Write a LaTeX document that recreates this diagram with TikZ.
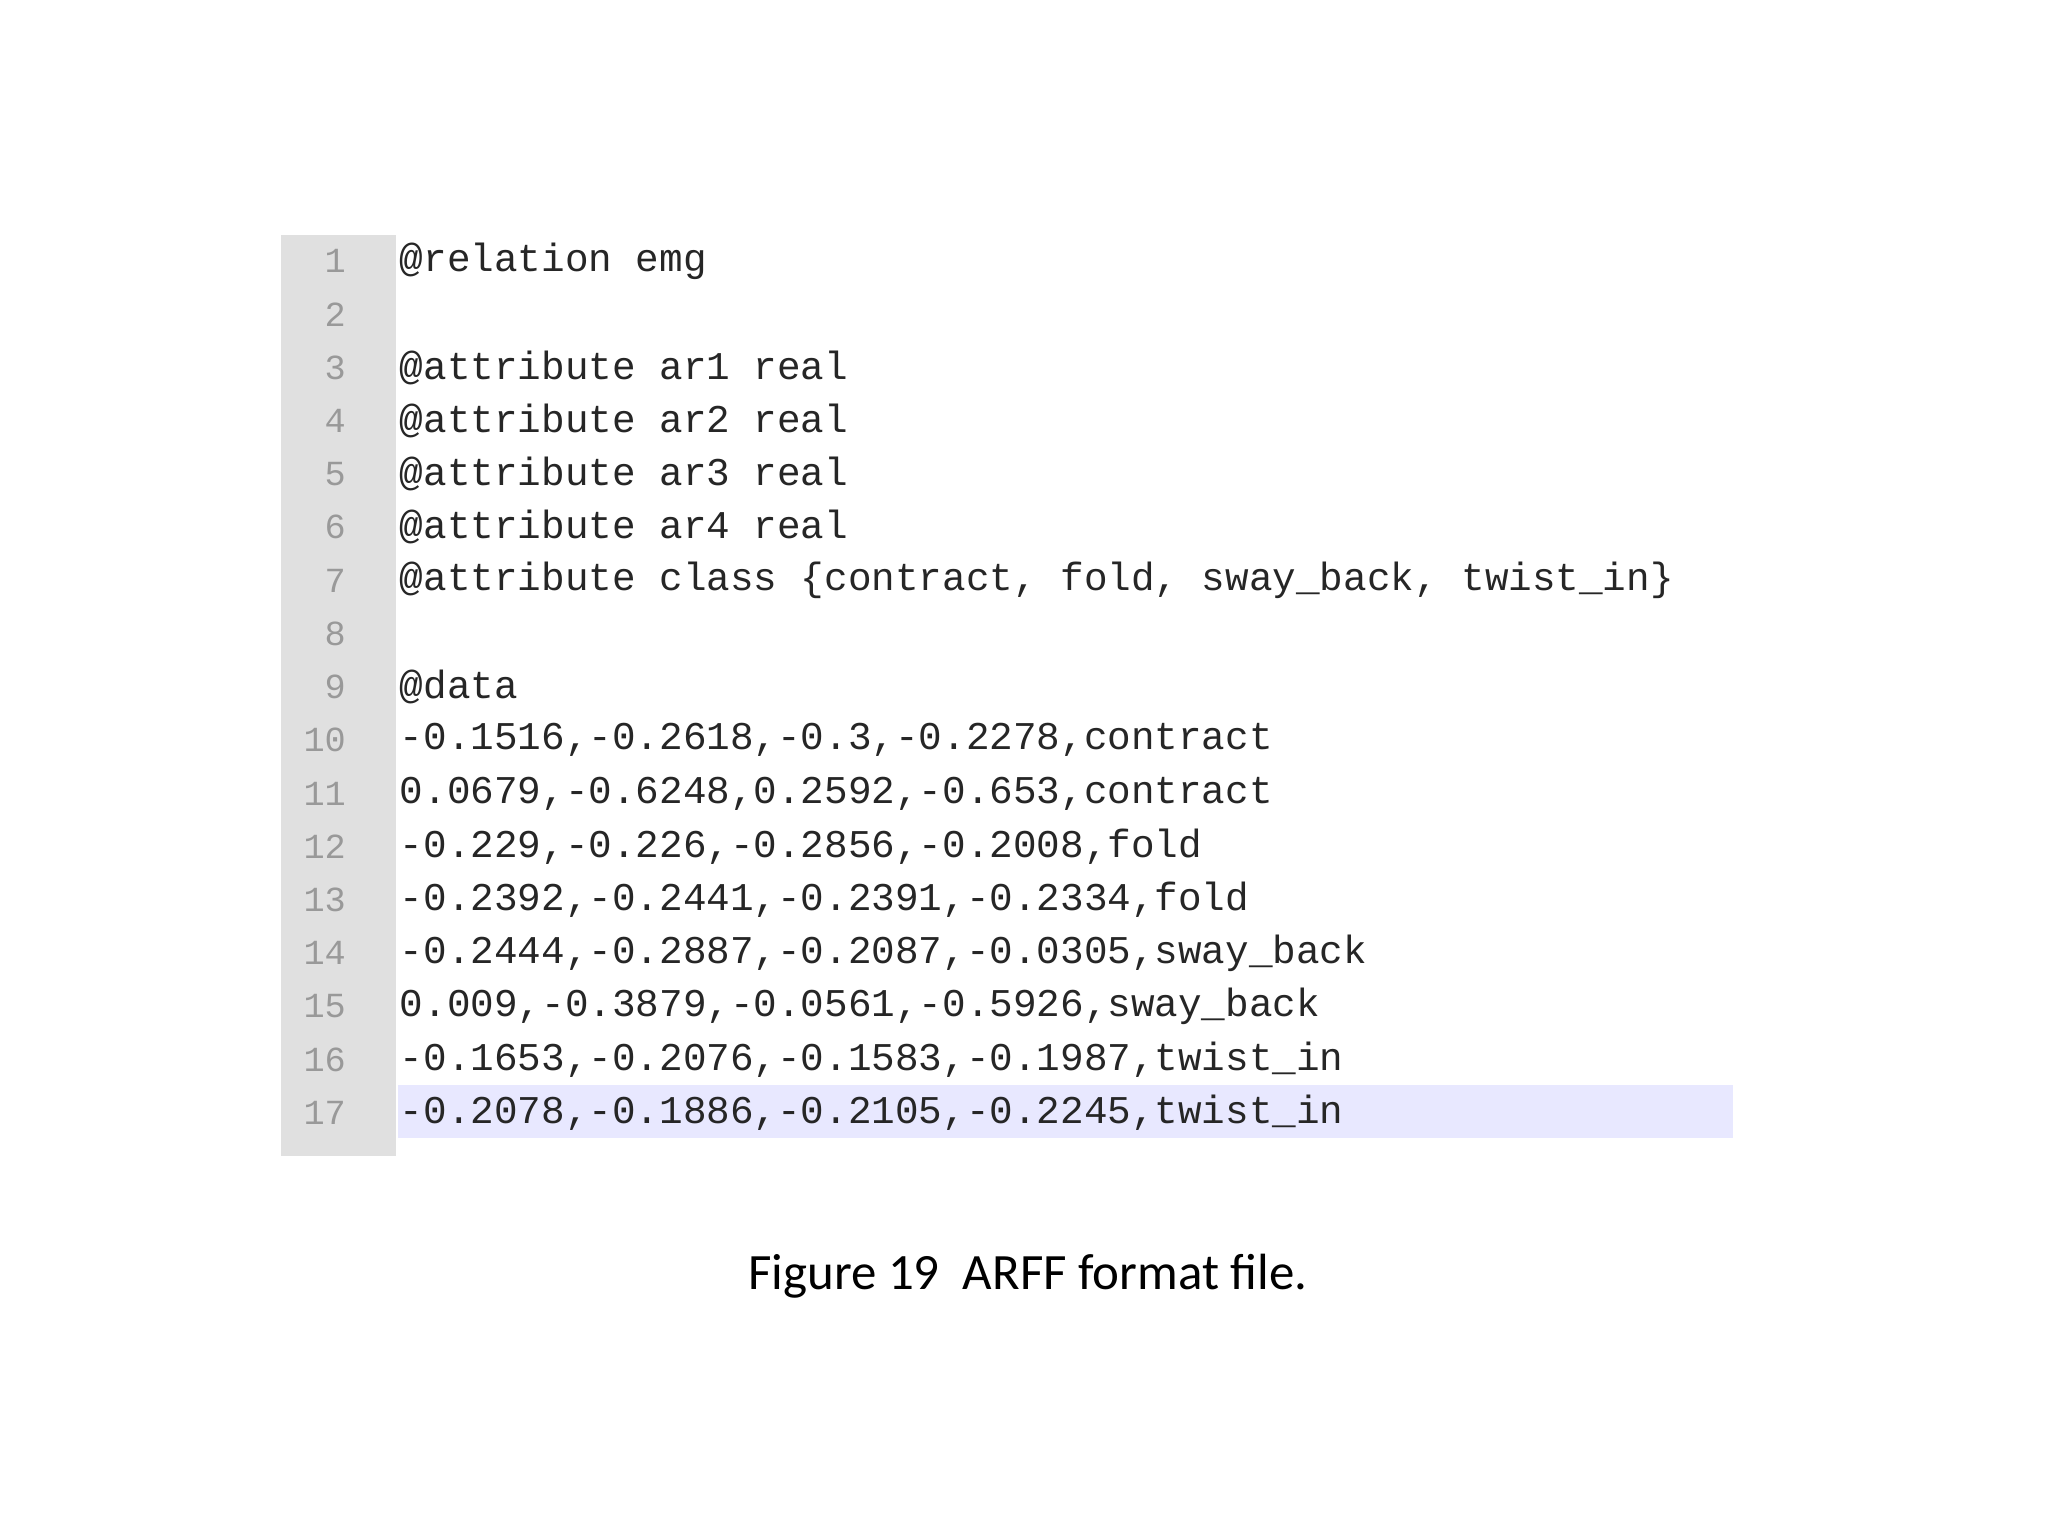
\documentclass[tikz,border=0pt]{standalone}
\usepackage{fontspec}
\setmainfont{Carlito}
\newfontfamily\codefont{Liberation Mono}
\begin{document}
\begin{tikzpicture}[x=1pt,y=-1pt,
  code/.style={anchor=west,inner sep=0pt,font=\codefont\fontsize{30.1}{30}\selectfont,text=black!85},
  num/.style={anchor=east,inner sep=0pt,font=\codefont\fontsize{27}{27}\selectfont,text=black!40}]
\useasboundingbox (0,0) rectangle (1568,1176);
\fill[white] (0,0) rectangle (1568,1176);
\fill[black!12] (215,180) rectangle (303,885);
\fill[blue!9] (305,831) rectangle (1327,871);
\foreach \i/\t in {1/{@relation emg},2/{},3/{@attribute ar1 real},4/{@attribute ar2 real},5/{@attribute ar3 real},6/{@attribute ar4 real},7/{@attribute class \{contract, fold, sway\_back, twist\_in\}},8/{},9/{@data},10/{-0.1516,-0.2618,-0.3,-0.2278,contract},11/{0.0679,-0.6248,0.2592,-0.653,contract},12/{-0.229,-0.226,-0.2856,-0.2008,fold},13/{-0.2392,-0.2441,-0.2391,-0.2334,fold},14/{-0.2444,-0.2887,-0.2087,-0.0305,sway\_back},15/{0.009,-0.3879,-0.0561,-0.5926,sway\_back},16/{-0.1653,-0.2076,-0.1583,-0.1987,twist\_in},17/{-0.2078,-0.1886,-0.2105,-0.2245,twist\_in}}{
  \node[num] (n\i) at (265,{200+40.75*(\i-1)}) {\i};
  \node[code] (c\i) at (306,{200+40.75*(\i-1)}) {\t};
}
\node[inner sep=0pt,font=\fontsize{39}{39}\selectfont] (cap) at (787,977) {Figure 19\ \ ARFF format file.};
\end{tikzpicture}
\end{document}
